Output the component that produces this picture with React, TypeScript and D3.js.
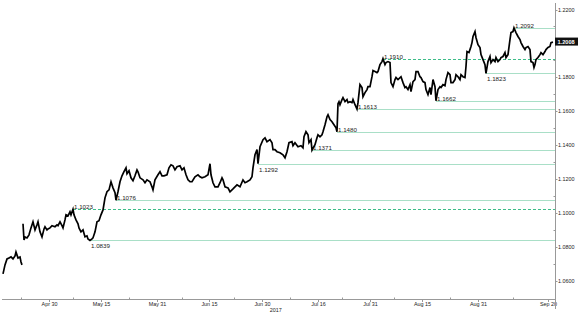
import React from "react";
import * as d3 from "d3";

// EUR/USD trace: [days since 2017-04-16, price]; NaN marks the weekend gap
const eurusd: [number, number][] = [
  [0.86,1.0642],[1.43,1.0695],[2.01,1.0730],[2.58,1.0736],[3.15,1.0742],[3.72,1.0730],[4.30,1.0748],[4.58,1.0771],[5.16,1.0736],[5.73,1.0742],[6.02,1.0712],[6.30,1.0695],
  [6.45,NaN],
  [6.59,1.0937],[6.88,1.0842],[7.16,1.0860],[7.73,1.0854],[8.31,1.0872],[8.88,1.0913],[9.45,1.0949],[10.03,1.0901],[10.60,1.0931],[10.89,1.0949],[11.46,1.0890],[12.03,1.0860],
  [12.61,1.0907],[12.89,1.0920],[13.46,1.0901],[13.75,1.0907],[14.32,1.0913],[14.90,1.0926],[15.76,1.0920],[16.33,1.0931],[16.62,1.0926],[17.19,1.0949],[17.76,1.0926],[18.05,1.0913],
  [18.62,1.0960],[18.91,1.0990],[19.48,1.0984],[20.05,1.1008],[20.34,1.0990],[20.91,1.1023],[21.20,1.0990],[21.77,1.0960],[22.35,1.0937],[22.63,1.0913],[23.20,1.0890],[23.78,1.0901],
  [24.35,1.0860],[24.92,1.0866],[25.21,1.0848],[25.78,1.0839],[26.36,1.0848],[26.64,1.0854],[27.22,1.0890],[27.79,1.0949],[28.36,1.0955],[28.93,1.0990],[29.51,1.1019],[30.08,1.1090],
  [30.65,1.1126],[31.23,1.1137],[31.80,1.1185],[32.37,1.1149],[32.95,1.1120],[33.23,1.1076],[33.80,1.1126],[34.38,1.1185],[34.95,1.1220],[35.52,1.1244],[36.10,1.1267],[36.38,1.1232],
  [36.96,1.1250],[37.53,1.1208],[38.10,1.1191],[38.67,1.1220],[39.25,1.1255],[39.53,1.1244],[40.11,1.1208],[40.97,1.1196],[41.54,1.1179],[42.11,1.1196],[42.97,1.1185],[43.54,1.1155],
  [43.83,1.1137],[44.40,1.1196],[45.26,1.1226],[45.84,1.1244],[46.41,1.1220],[46.98,1.1220],[47.84,1.1226],[48.41,1.1267],[48.99,1.1285],[49.56,1.1279],[50.13,1.1255],[50.71,1.1273],
  [51.57,1.1279],[52.14,1.1255],[52.71,1.1267],[53.29,1.1226],[53.86,1.1196],[54.43,1.1185],[55.00,1.1185],[55.86,1.1214],[56.72,1.1226],[57.30,1.1214],[57.87,1.1208],[58.73,1.1214],
  [59.59,1.1226],[60.16,1.1291],[60.45,1.1226],[61.02,1.1179],[61.59,1.1155],[62.45,1.1155],[63.03,1.1179],[63.60,1.1208],[63.89,1.1196],[64.46,1.1155],[65.32,1.1149],[65.89,1.1126],
  [66.75,1.1143],[67.32,1.1155],[67.90,1.1167],[68.76,1.1155],[69.61,1.1196],[70.19,1.1179],[70.76,1.1185],[71.62,1.1196],[72.19,1.1214],[72.48,1.1267],[73.05,1.1344],[73.63,1.1374],
  [73.91,1.1292],[74.49,1.1391],[75.35,1.1433],[75.92,1.1444],[76.49,1.1421],[77.35,1.1433],[77.92,1.1415],[78.21,1.1374],[78.78,1.1374],[79.35,1.1362],[80.21,1.1356],[81.07,1.1344],
  [81.65,1.1326],[82.22,1.1362],[82.79,1.1415],[83.65,1.1421],[83.94,1.1397],[84.51,1.1415],[85.37,1.1391],[86.23,1.1397],[86.80,1.1385],[87.09,1.1450],[87.66,1.1480],[88.24,1.1462],
  [88.52,1.1415],[89.10,1.1433],[89.38,1.1371],[90.24,1.1403],[90.81,1.1444],[91.10,1.1462],[91.67,1.1450],[92.25,1.1462],[92.53,1.1480],[93.11,1.1521],[93.68,1.1568],[93.97,1.1580],
  [94.54,1.1551],[95.11,1.1539],[95.68,1.1521],[96.26,1.1503],[96.54,1.1480],[96.83,1.1645],[97.12,1.1657],[97.40,1.1639],[97.98,1.1669],[98.26,1.1681],[98.84,1.1657],[99.41,1.1669],
  [99.70,1.1651],[100.27,1.1657],[100.84,1.1651],[101.13,1.1669],[101.70,1.1639],[102.27,1.1613],[102.56,1.1651],[103.13,1.1757],[103.71,1.1740],[103.99,1.1686],[104.57,1.1710],[105.14,1.1728],
  [105.42,1.1745],[106.00,1.1745],[106.57,1.1804],[106.86,1.1840],[107.43,1.1834],[108.00,1.1828],[108.29,1.1834],[108.86,1.1875],[109.43,1.1893],[109.72,1.1910],[110.29,1.1875],[110.58,1.1887],
  [111.15,1.1893],[111.73,1.1887],[112.01,1.1769],[112.59,1.1745],[113.16,1.1787],[113.45,1.1799],[114.02,1.1787],[114.88,1.1804],[115.45,1.1769],[116.02,1.1740],[116.31,1.1745],[116.88,1.1728],
  [117.46,1.1757],[117.74,1.1716],[118.32,1.1775],[118.89,1.1787],[119.18,1.1834],[119.75,1.1834],[120.32,1.1804],[120.61,1.1799],[121.18,1.1775],[121.75,1.1769],[122.04,1.1728],[122.61,1.1698],
  [123.19,1.1740],[123.47,1.1698],[124.05,1.1787],[124.62,1.1745],[124.90,1.1662],[125.48,1.1728],[126.05,1.1745],[126.34,1.1740],[126.91,1.1757],[127.48,1.1751],[127.77,1.1787],[128.34,1.1828],
  [128.92,1.1816],[129.20,1.1769],[129.77,1.1769],[130.35,1.1787],[130.64,1.1816],[131.21,1.1804],[131.78,1.1787],[132.07,1.1816],[132.64,1.1804],[133.21,1.1799],[133.50,1.1864],[133.79,1.1952],
  [134.36,1.1946],[134.93,1.1982],[135.22,1.2005],[135.51,1.2041],[136.08,1.2070],[136.36,1.2035],[136.94,1.1993],[137.51,1.1976],[137.80,1.1934],[138.37,1.1905],[138.94,1.1875],[139.23,1.1823],
  [139.80,1.1893],[140.38,1.1923],[140.66,1.1887],[141.24,1.1905],[141.81,1.1893],[142.09,1.1917],[142.67,1.1893],[143.24,1.1905],[143.53,1.1917],[144.10,1.1923],[144.67,1.1946],[144.96,1.1917],
  [145.53,1.1934],[146.10,1.2023],[146.39,1.2064],[146.96,1.2070],[147.25,1.2092],[147.82,1.2064],[148.40,1.2041],[148.97,1.2023],[149.25,1.2005],[149.83,1.1982],[150.40,1.1964],[150.69,1.1976],
  [151.26,1.1982],[151.83,1.1964],[152.12,1.1893],[152.69,1.1887],[152.98,1.1858],[153.26,1.1875],[153.55,1.1905],[154.12,1.1917],[154.70,1.1934],[154.99,1.1946],[155.56,1.1934],[156.13,1.1952],
  [156.42,1.1964],[156.99,1.1976],[157.56,1.1982],[157.85,1.2005],[158.42,1.2008],
];

const levelValues = [1.1023, 1.0839, 1.1076, 1.1292, 1.1371, 1.1480, 1.1613, 1.1662, 1.1910, 1.1823, 1.2092];
const levelStartDays = [20.91, 25.78, 33.23, 73.91, 89.38, 96.54, 102.27, 124.9, 109.72, 139.23, 147.25];
const levelDashed = [true, false, false, false, false, false, false, false, true, false, false];
const levelLabelBelow = [false, true, false, true, false, false, false, false, false, true, false];

const xTickDates = ["2017-04-30", "2017-05-15", "2017-05-31", "2017-06-15", "2017-06-30", "2017-07-16", "2017-07-31", "2017-08-15", "2017-08-31", "2017-09-20"];
const xTickLabels = ["Apr 30", "May 15", "May 31", "Jun 15", "Jun 30", "Jul 16", "Jul 31", "Aug 15", "Aug 31", "Sep 20"];
const xMinorDates = ["2017-04-22", "2017-05-07", "2017-05-23", "2017-06-07", "2017-06-22", "2017-07-08", "2017-07-23", "2017-08-07", "2017-08-23", "2017-09-10"];
const yearLabel = "2017";
const yearLabelDate = "2017-07-04";
const yTicks = [1.06, 1.08, 1.10, 1.12, 1.14, 1.16, 1.18, 1.20, 1.22];
const yMinor = [1.07, 1.09, 1.11, 1.13, 1.15, 1.17, 1.19, 1.21];
const lastPrice = 1.2008;

const W = 578, H = 315;
const START = new Date(2017, 3, 16);
const END = new Date(2017, 8, 22);
const parse = d3.timeParse("%Y-%m-%d");
const dayToDate = (d: number) => new Date(START.getTime() + d * 864e5);

export default function App() {
  const axisX = 555;
  const axisY = 299.5;
  const x = d3.scaleTime().domain([START, END]).range([0, axisX]);
  const y = d3.scaleLinear().domain([1.06, 1.22]).range([281, 9.5]);
  const line = d3
    .line<[number, number]>()
    .defined((p) => !Number.isNaN(p[1]))
    .x((p) => x(dayToDate(p[0])))
    .y((p) => y(p[1]));
  const font = "'Liberation Sans', Arial, sans-serif";

  return (
    <svg width={W} height={H} style={{ position: "absolute", left: 0, top: 0, background: "#fff" }} fontFamily={font}>
      {/* level lines */}
      {levelValues.map((v, i) => {
        const x0 = x(dayToDate(levelStartDays[i]));
        const yy = Math.round(y(v)) + 0.5;
        return (
          <g key={"lv" + i}>
            <line
              x1={x0}
              x2={axisX}
              y1={yy}
              y2={yy}
              stroke={levelDashed[i] ? "#3dbd88" : "#a9dfc7"}
              strokeWidth={1}
              strokeDasharray={levelDashed[i] ? "3,2" : undefined}
            />
            <text x={x0 + 1} y={levelLabelBelow[i] ? yy + 7 : yy - 1} fontSize={6.2} fill="#222">
              {v.toFixed(4)}
            </text>
          </g>
        );
      })}

      {/* price line */}
      <path d={line(eurusd) || ""} fill="none" stroke="#000" strokeWidth={1.7} strokeLinejoin="miter" />

      {/* x axis */}
      <line x1={2} x2={axisX} y1={axisY} y2={axisY} stroke="#999" strokeWidth={1} />
      {xMinorDates.map((s, i) => {
        const xx = Math.round(x(parse(s) as Date)) + 0.5;
        return <line key={"xm" + i} x1={xx} x2={xx} y1={axisY - 2} y2={axisY} stroke="#999" />;
      })}
      {xTickDates.map((s, i) => {
        const xx = Math.round(x(parse(s) as Date)) + 0.5;
        return (
          <g key={"xt" + i}>
            <line x1={xx} x2={xx} y1={axisY} y2={axisY + 2.5} stroke="#999" />
            <text x={xx} y={axisY + 6.5} fontSize={5.4} textAnchor="middle" fill="#222">
              {xTickLabels[i]}
            </text>
          </g>
        );
      })}
      <text x={x(parse(yearLabelDate) as Date)} y={axisY + 12.5} fontSize={5.4} textAnchor="middle" fill="#222">
        {yearLabel}
      </text>

      {/* y axis */}
      <line x1={axisX + 0.5} x2={axisX + 0.5} y1={3} y2={309} stroke="#999" strokeWidth={1} />
      {yMinor.map((v, i) => {
        const yy = Math.round(y(v)) + 0.5;
        return <line key={"ym" + i} x1={axisX - 1.5} x2={axisX + 0.5} y1={yy} y2={yy} stroke="#999" />;
      })}
      {yTicks.map((v, i) => {
        const yy = Math.round(y(v)) + 0.5;
        return (
          <g key={"yt" + i}>
            <line x1={axisX + 0.5} x2={axisX + 2.5} y1={yy} y2={yy} stroke="#999" />
            <text x={axisX + 3} y={yy} dy="0.35em" fontSize={5.4} fill="#222">
              {v.toFixed(4)}
            </text>
          </g>
        );
      })}

      {/* last price tag */}
      <g>
        <rect x={axisX} y={y(lastPrice) - 4.5} width={W - axisX} height={8} fill="#111" />
        <text x={axisX + 2.5} y={y(lastPrice)} dy="0.35em" fontSize={5.6} fontWeight="bold" fill="#fff">
          {lastPrice.toFixed(4)}
        </text>
      </g>
    </svg>
  );
}
